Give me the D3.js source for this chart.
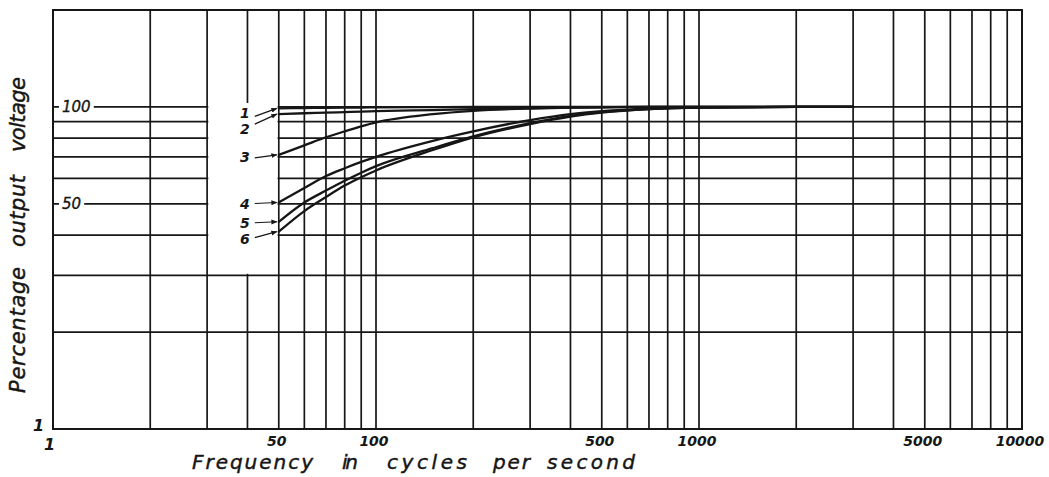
<!DOCTYPE html>
<html>
<head>
<meta charset="utf-8">
<script src="https://cdn.jsdelivr.net/npm/d3@7"></script>
<style>
  html, body { margin: 0; padding: 0; background: #ffffff; }
  svg { display: block; }
  text { font-family: "DejaVu Sans", sans-serif; font-style: italic; fill: #161616; }
</style>
</head>
<body>
<svg id="chart" width="1049" height="477"></svg>
<script>
// Frequency response of six coupling networks, output as percent of mid-band level

// grid rulings (log-log paper)
const freqGrid = [10, 20, 30, 40, 50, 60, 70, 80, 90, 100, 200, 300, 400, 500, 600, 700, 800, 900,
                  1000, 2000, 3000, 4000, 5000, 6000, 7000, 8000, 9000, 10000];
const pctGrid = [20, 30, 40, 50, 60, 70, 80, 90, 100];

// axis labels
const freqTicks = [50, 100, 500, 1000, 5000, 10000];
const freqTickText = ["50", "100", "500", "1000", "5000", "10000"];
const pctTicks = [100, 50];
const pctTickText = ["100", "50"];

// measured curves (frequency in c/s, percent output)
const freqs  = [50, 60, 70, 80, 90, 100, 150, 200, 300, 400, 500, 700, 1000, 2000, 3000];
const curve1 = [99, 99.2, 99.4, 99.5, 99.6, 99.7, 99.9, 100, 100, 100, 100, 100, 100, 100, 100];
const curve2 = [95, 95.6, 96, 96.4, 96.7, 97, 97.8, 98.4, 99.2, 99.6, 99.8, 100, 100, 100, 100];
const curve3 = [71, 76, 80.5, 84, 87, 89.5, 95, 97.3, 98.9, 99.5, 99.8, 100, 100, 100, 100];
const curve4 = [50.5, 56, 61, 64.5, 67.5, 70, 78.5, 84, 91, 95, 97, 98.8, 99.6, 100, 100];
const curve5 = [44, 50.5, 55, 59, 62.5, 65.5, 74.5, 81, 89, 93.8, 96.3, 98.5, 99.5, 100, 100];
const curve6 = [41, 47.5, 52.5, 57, 60.5, 63.5, 73.5, 80.5, 88.5, 93.3, 96, 98.4, 99.5, 100, 100];
const curveNames = ["1", "2", "3", "4", "5", "6"];

const series = [curve1, curve2, curve3, curve4, curve5, curve6];

const ink = "#161616";
const svg = d3.select("#chart");

const x = d3.scaleLog().domain([10, 10000]).range([53, 1022]);
const y = d3.scaleLog().domain([10, 200]).range([429, 10]);

// paper grid
const grid = svg.append("g").attr("stroke", ink).attr("stroke-width", 1.7).attr("fill", "none");
grid.selectAll("line.v")
  .data(freqGrid.filter(f => f > 10 && f < 10000))
  .join("line")
  .attr("class", "v")
  .attr("x1", d => x(d)).attr("x2", d => x(d))
  .attr("y1", y(200)).attr("y2", y(10));
grid.selectAll("line.h")
  .data(pctGrid)
  .join("line")
  .attr("class", "h")
  .attr("x1", x(10)).attr("x2", x(10000))
  .attr("y1", d => y(d)).attr("y2", d => y(d));

// clear panel where the curve numbers sit (between the 30 and 50 c/s rulings)
svg.append("rect")
  .attr("x", x(30) + 1.2)
  .attr("y", y(100) - 4)
  .attr("width", x(50) - x(30) - 2.4)
  .attr("height", y(30) - y(100) + 2.5)
  .attr("fill", "#ffffff");

// frame
svg.append("rect")
  .attr("x", x(10)).attr("y", y(200))
  .attr("width", x(10000) - x(10))
  .attr("height", y(10) - y(200))
  .attr("fill", "none").attr("stroke", ink).attr("stroke-width", 2);

// curves
const line = d3.line()
  .x((d, i) => x(freqs[i]))
  .y(d => y(d))
  .curve(d3.curveMonotoneX);

svg.append("g")
  .selectAll("path")
  .data(series)
  .join("path")
  .attr("d", d => line(d))
  .attr("fill", "none")
  .attr("stroke", ink)
  .attr("stroke-width", 2.3)
  .attr("stroke-linecap", "round");

// curve numbers with small arrowed leaders
svg.append("defs").append("marker")
  .attr("id", "arrow")
  .attr("viewBox", "0 0 10 10")
  .attr("refX", 9).attr("refY", 5)
  .attr("markerWidth", 5).attr("markerHeight", 5)
  .attr("orient", "auto")
  .append("path")
  .attr("d", "M0,1 L10,5 L0,9 Z")
  .attr("fill", ink);

const textDy = [10, 20, 7, 6, 6, 12];
const leadDy = [8, 10, 3, 1, 1, 6];
const x0 = x(freqs[0]);
const labels = svg.append("g");
series.forEach((s, i) => {
  const y0 = y(s[0]);
  labels.append("line")
    .attr("x1", x0 - 24).attr("y1", y0 + leadDy[i])
    .attr("x2", x0 - 2).attr("y2", y0)
    .attr("stroke", ink).attr("stroke-width", 1.2)
    .attr("marker-end", "url(#arrow)");
  labels.append("text")
    .attr("x", x0 - 29).attr("y", y0 + textDy[i])
    .attr("text-anchor", "end")
    .attr("font-size", 14).attr("font-weight", "bold")
    .text(curveNames[i]);
});

// frequency labels
svg.append("g")
  .selectAll("text")
  .data(freqTicks)
  .join("text")
  .attr("x", d => x(d) - 2)
  .attr("y", 445.5)
  .attr("text-anchor", "middle")
  .attr("font-size", 14).attr("font-weight", "bold")
  .text((d, i) => freqTickText[i]);

// percentage labels, with a gap cut in the ruling
const pctG = svg.append("g");
pctTicks.forEach((v, i) => {
  const w = pctTickText[i].length * 9.6;
  pctG.append("rect")
    .attr("x", x(10) + 6).attr("y", y(v) - 8)
    .attr("width", w + 6).attr("height", 16)
    .attr("fill", "#ffffff");
  pctG.append("text")
    .attr("x", x(10) + 9).attr("y", y(v) + 5.5)
    .attr("font-size", 15)
    .attr("stroke", ink).attr("stroke-width", 0.35)
    .text(pctTickText[i]);
});

// origin marks
svg.append("text").attr("x", 44).attr("y", 450).attr("font-size", 16).attr("font-weight", "bold").text("1");
svg.append("text").attr("x", 33).attr("y", 431).attr("font-size", 16).attr("font-weight", "bold").text("1");

// axis titles, lettered word by word
const xWords = [["Frequency", 192, 121], ["in", 342, 16], ["cycles", 387, 80], ["per", 493, 37], ["second", 547, 88]];
svg.append("g")
  .selectAll("text")
  .data(xWords)
  .join("text")
  .attr("x", d => d[1]).attr("y", 468.5)
  .attr("font-size", 20)
  .attr("stroke", ink).attr("stroke-width", 0.45)
  .attr("textLength", d => d[2])
  .text(d => d[0]);

const yWords = [["Percentage", 393, 126], ["output", 247, 72], ["voltage", 152, 75]];
svg.append("g")
  .selectAll("text")
  .data(yWords)
  .join("text")
  .attr("transform", d => `translate(25,${d[1]}) rotate(-90)`)
  .attr("font-size", 21)
  .attr("stroke", ink).attr("stroke-width", 0.45)
  .attr("textLength", d => d[2])
  .text(d => d[0]);
</script>
</body>
</html>
